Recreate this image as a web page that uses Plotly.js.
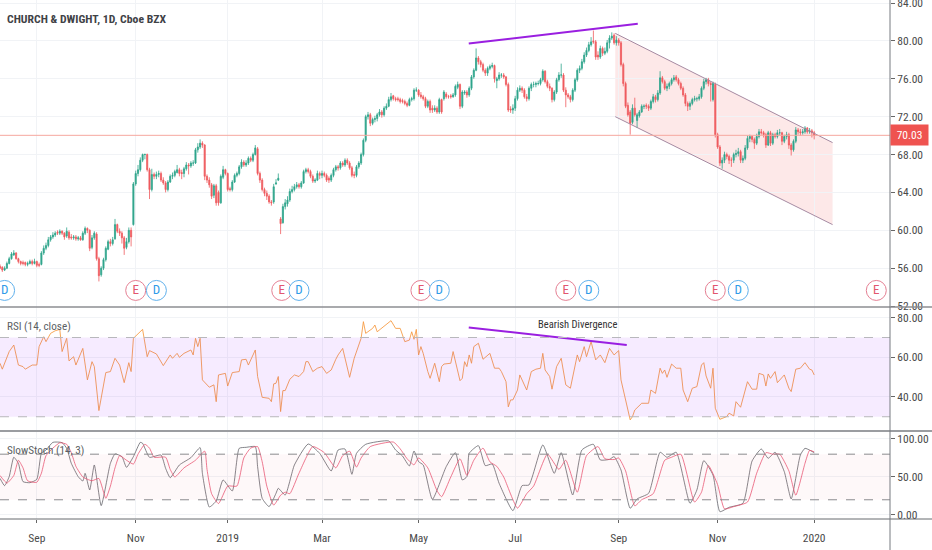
<!DOCTYPE html>
<html><head><meta charset="utf-8">
<script src="https://cdn.plot.ly/plotly-3.0.1.min.js"></script>
<style>html,body{margin:0;padding:0;background:#fff}#c{width:932px;height:550px}</style>
</head><body><div id="c"></div>
<script>
const closes=[56.0,55.8,56.0,56.5,57.0,57.5,57.6,57.0,56.7,56.5,
56.5,56.4,56.5,56.7,56.5,56.7,56.3,56.3,57.6,58.1,
58.4,59.0,59.3,59.5,59.7,59.7,59.9,59.7,59.3,59.9,
59.2,59.2,59.3,59.1,59.2,59.0,59.7,60.2,60.0,58.1,
59.2,59.7,57.0,55.2,56.0,56.9,58.1,58.8,58.6,59.0,
60.6,59.9,59.7,59.2,58.1,58.8,60.0,59.3,64.9,66.0,
66.4,67.4,68.0,68.0,66.4,64.3,65.9,65.7,65.9,66.0,
65.3,65.0,64.3,65.1,65.7,65.8,66.2,66.4,66.0,66.0,
66.5,66.9,66.8,67.1,67.1,68.5,68.8,69.2,69.0,65.7,
65.3,64.8,63.6,64.7,62.9,62.9,65.7,66.4,66.0,64.3,
64.3,65.1,65.8,66.0,66.7,67.2,66.9,67.1,67.6,67.4,
68.0,68.7,66.0,65.3,64.3,63.9,63.6,63.0,62.9,64.6,
65.0,65.5,60.7,62.5,62.9,63.2,64.1,64.3,64.6,64.8,
64.6,65.0,66.2,66.4,66.2,65.7,65.2,65.3,66.0,65.8,
66.0,65.8,65.3,65.3,65.8,66.4,66.7,66.6,67.1,66.9,
67.4,67.1,66.6,65.8,65.8,66.7,67.1,68.0,69.5,72.0,
72.2,71.3,71.7,71.8,72.2,72.5,72.2,72.9,73.1,73.8,
74.1,73.9,73.8,73.8,73.6,73.6,73.4,73.2,73.8,73.9,
74.8,74.8,74.3,74.1,73.9,73.1,73.6,72.7,72.7,72.9,
72.5,73.8,72.5,74.6,74.1,74.1,74.1,74.3,75.2,75.4,
73.1,74.6,74.6,74.3,75.0,76.2,76.9,78.2,77.8,77.5,
76.9,76.6,77.1,77.3,77.4,76.0,76.0,76.4,76.4,76.2,
75.4,72.7,72.7,72.9,73.9,74.8,75.0,74.8,74.1,73.9,
75.0,75.4,75.4,75.5,75.5,75.9,76.8,75.7,75.2,75.0,
73.8,74.6,75.9,76.4,76.4,74.8,74.3,74.1,73.8,74.8,
75.9,76.9,77.1,77.8,78.5,79.0,79.6,79.9,79.9,78.3,
78.3,79.2,78.7,78.9,79.8,80.3,80.5,79.8,80.1,79.8,
77.5,75.5,73.1,72.2,71.3,72.9,72.2,72.2,72.5,73.1,
73.1,73.1,72.9,73.6,74.1,73.8,74.5,76.1,75.7,75.0,
75.2,75.5,75.9,76.1,75.9,75.5,75.0,74.3,73.4,73.1,
73.4,73.8,73.9,73.9,74.1,75.0,75.7,75.9,75.5,75.4,
75.5,70.1,68.8,67.1,67.4,68.0,67.8,67.4,67.4,68.0,
68.1,68.3,67.4,67.6,68.7,69.7,69.9,69.6,69.2,69.9,
70.4,70.3,70.1,69.0,70.3,69.2,70.1,69.9,70.3,70.3,
69.4,69.9,70.1,69.0,68.5,69.4,70.6,70.4,70.3,70.4,
70.8,70.4,70.5,70.3,70.03];
const opens=[56.2,56.1,55.8,56.0,56.5,57.0,57.4,57.6,57.0,56.7,
56.6,56.6,56.4,56.5,56.7,56.5,56.7,56.4,56.4,57.6,
58.1,58.4,59.0,59.3,59.5,59.8,59.7,59.9,59.7,59.4,
59.8,59.3,59.2,59.3,59.1,59.2,59.0,59.7,60.2,60.0,
58.2,59.2,59.6,57.0,55.3,56.0,56.9,58.0,58.8,58.6,
59.1,60.6,59.9,59.7,59.2,58.2,58.8,60.0,60.6,64.9,
66.0,66.4,67.4,68.0,68.0,66.4,64.3,65.9,65.7,65.9,
66.0,65.3,65.0,64.3,65.1,65.7,65.8,66.1,66.4,66.1,
66.0,66.5,66.9,66.8,67.1,67.1,68.5,68.8,69.2,69.0,
65.7,65.3,64.8,63.7,64.7,64.0,62.9,65.6,66.4,66.0,
64.4,64.3,65.1,65.8,66.0,66.7,67.2,66.9,67.1,67.6,
67.4,68.0,68.6,66.0,65.3,64.3,63.9,63.6,63.0,63.0,
64.9,65.3,61.2,60.8,62.5,62.8,63.2,64.1,64.3,64.6,
64.8,64.6,65.0,66.2,66.4,66.2,65.7,65.2,65.3,66.0,
65.8,66.0,65.8,65.5,65.3,65.8,66.4,66.7,66.6,67.1,
66.9,67.4,67.1,66.6,65.9,65.8,66.7,67.1,68.0,69.5,
72.0,72.2,71.3,71.7,71.8,72.2,72.5,72.2,72.9,73.1,
73.8,74.2,73.9,73.9,73.8,73.7,73.6,73.4,73.2,73.8,
73.9,74.8,74.8,74.3,74.1,73.9,73.1,73.6,72.9,72.7,
72.9,72.5,73.8,73.9,74.4,74.1,74.2,74.1,74.3,75.1,
75.4,73.1,74.5,74.6,74.3,75.0,76.2,76.9,78.2,77.8,
77.5,76.9,76.6,77.1,77.3,77.4,75.8,76.0,76.4,76.4,
76.2,75.4,72.8,72.7,72.9,73.9,74.8,75.0,74.8,74.1,
73.9,75.0,75.4,75.4,75.5,75.5,75.9,76.8,75.7,75.2,
75.0,73.8,74.6,75.9,76.4,76.4,74.8,74.3,74.1,73.8,
74.8,75.9,76.9,77.1,77.8,78.5,79.0,79.6,80.0,79.9,
78.5,78.3,79.2,78.7,78.9,79.8,80.3,80.6,79.8,80.1,
79.8,77.5,75.5,73.2,72.5,71.4,72.9,71.6,72.1,72.5,
73.1,73.2,73.1,72.9,73.6,74.1,73.8,74.5,76.1,75.7,
75.0,75.2,75.5,75.9,76.2,75.9,75.5,75.0,74.3,73.4,
73.1,73.4,73.8,73.9,73.9,74.1,75.0,75.7,75.9,75.5,
73.8,75.4,70.1,68.8,67.1,67.4,68.0,67.8,67.4,67.4,
68.0,68.1,68.3,67.4,67.6,68.7,69.7,69.9,69.6,69.2,
69.9,70.4,70.3,70.1,69.0,70.3,69.2,70.1,69.9,70.3,
70.3,69.4,69.9,70.1,69.0,68.5,69.4,70.6,70.4,70.3,
70.4,70.8,70.4,70.5,70.3];
const highs=[56.4,56.2,56.2,56.7,57.2,57.7,57.9,57.7,57.1,56.8,
56.8,56.7,56.7,56.9,56.9,57.0,56.8,56.6,57.8,58.4,
58.7,59.3,59.5,59.8,59.9,60.0,60.1,60.0,59.8,60.3,
60.0,59.6,59.5,59.5,59.4,59.4,59.9,60.4,60.3,60.1,
59.5,59.9,59.8,57.2,56.2,57.1,58.3,59.0,59.1,59.3,
61.2,60.7,60.2,59.9,59.4,59.2,60.3,60.3,65.1,66.3,
66.9,67.7,68.1,68.1,68.1,66.6,66.5,66.1,66.2,66.3,
66.2,65.6,65.2,65.3,65.9,66.1,66.4,66.9,66.6,66.4,
66.7,67.2,67.1,67.3,67.4,68.7,69.2,69.6,69.4,69.1,
65.9,65.6,65.0,64.9,64.9,64.2,65.9,66.8,66.5,66.1,
64.6,65.3,66.0,66.2,66.9,67.5,67.4,67.4,67.8,67.8,
68.2,69.0,68.8,66.2,65.5,64.5,64.2,63.8,63.2,64.9,
65.4,66.0,61.4,62.8,63.3,63.6,64.4,64.7,64.9,65.1,
65.0,65.2,66.4,66.6,66.6,66.4,65.9,65.5,66.3,66.2,
66.3,66.2,66.0,65.7,66.0,66.6,66.9,66.9,67.3,67.3,
67.6,67.6,67.3,66.8,66.2,66.9,67.3,68.2,69.7,72.2,
72.5,72.4,71.9,72.1,72.4,72.8,72.7,73.1,73.4,74.1,
74.5,74.3,74.1,74.1,74.0,73.9,73.8,73.6,74.0,74.1,
75.0,75.1,74.9,74.6,74.3,74.1,73.8,73.8,73.2,73.2,
73.1,74.0,73.9,74.8,74.6,74.3,74.4,74.5,75.4,75.7,
75.5,74.8,74.8,74.8,75.2,76.4,77.1,79.2,78.4,78.0,
77.7,77.1,77.3,77.5,77.7,77.5,76.2,76.7,76.6,76.6,
76.3,75.6,73.1,73.3,74.2,75.1,75.3,75.2,75.0,74.4,
75.2,75.6,75.7,75.7,75.8,76.1,77.0,76.9,75.9,75.5,
75.1,74.8,76.1,76.7,77.6,76.6,75.1,74.5,74.3,75.0,
76.1,77.1,77.4,78.1,78.8,79.3,79.9,80.4,81.1,80.1,
78.9,79.5,79.4,79.3,80.1,80.6,80.9,80.8,80.5,80.3,
80.0,77.7,75.7,73.5,72.7,73.3,74.0,72.4,72.7,73.3,
73.3,73.4,73.3,73.8,74.4,74.3,74.8,76.8,76.3,75.9,
75.5,75.7,76.1,76.4,76.4,76.1,75.7,75.2,74.5,73.6,
73.6,74.0,74.2,74.1,74.4,75.2,76.0,76.1,76.1,75.7,
75.7,75.6,70.3,69.0,67.7,68.3,68.2,68.0,67.7,68.2,
68.5,68.7,68.5,67.9,69.0,70.0,70.1,70.0,69.8,70.2,
70.7,70.7,70.5,70.3,70.5,70.5,70.3,70.3,70.6,70.7,
70.4,70.1,70.4,70.3,69.2,69.6,70.9,70.8,70.7,70.7,
71.0,70.9,70.8,70.7,70.5];
const lows=[55.9,55.6,55.7,55.9,56.4,56.9,57.3,56.9,56.5,56.3,
56.3,56.2,56.2,56.4,56.3,56.4,56.1,56.1,56.3,57.4,
57.9,58.2,58.8,59.1,59.3,59.5,59.5,59.5,59.0,59.2,
59.0,59.0,59.0,58.9,58.9,58.9,58.9,59.5,59.7,57.8,
58.0,59.0,56.8,54.6,55.1,55.8,56.7,57.9,58.3,58.4,
59.0,59.7,59.4,58.6,57.4,58.0,58.6,58.3,60.5,64.7,
65.7,66.2,67.2,67.5,66.2,63.3,64.1,65.4,65.4,65.6,
65.1,64.8,64.0,64.1,65.0,65.4,65.6,66.0,65.7,65.4,
65.6,66.3,65.9,66.6,66.8,67.0,68.2,68.6,68.7,65.3,
65.0,64.5,63.3,63.4,62.6,62.6,62.8,65.4,65.8,64.1,
64.1,64.1,65.0,65.6,65.8,66.5,66.7,66.7,66.9,67.2,
67.2,67.9,65.8,65.0,64.1,63.6,63.2,62.8,62.6,62.8,
64.8,65.2,59.6,60.7,62.2,62.5,63.0,63.9,64.1,64.4,
64.4,64.4,64.9,66.0,66.0,65.5,65.0,65.0,65.2,65.4,
65.5,65.6,65.1,65.0,65.1,65.6,66.2,66.3,66.4,66.7,
66.7,66.9,66.4,65.6,65.5,65.6,66.5,66.9,67.8,69.3,
71.7,71.0,71.1,71.4,71.5,72.0,71.9,72.0,72.7,73.0,
73.6,73.7,73.6,73.6,73.4,73.4,73.2,73.0,73.1,73.6,
73.7,74.6,74.1,73.9,73.7,72.9,72.9,72.4,72.4,72.5,
72.3,72.3,72.3,73.7,73.9,73.9,73.9,74.0,74.1,74.9,
72.8,72.9,74.3,74.0,74.1,74.8,76.0,76.8,77.5,77.2,
76.7,76.3,76.3,76.9,77.1,75.6,75.0,75.8,76.1,76.0,
75.2,72.5,72.4,72.3,72.6,73.7,74.6,74.5,73.9,73.6,
73.7,74.7,75.1,75.1,75.3,75.3,75.7,75.5,75.0,74.7,
73.5,73.6,74.4,75.7,76.1,74.6,73.0,73.9,73.5,73.6,
74.6,75.7,76.6,76.9,77.6,78.3,78.8,79.4,79.7,78.0,
78.0,78.1,78.4,78.5,78.7,79.2,80.1,79.6,79.5,79.5,
77.3,75.2,72.9,72.0,70.1,71.2,72.0,70.8,71.9,72.4,
72.8,72.8,72.6,72.7,73.4,73.5,73.6,74.3,75.5,74.8,
74.7,74.9,75.3,75.7,75.7,75.3,74.8,74.1,73.1,72.6,
72.7,73.2,73.6,73.6,73.7,73.9,74.8,75.4,75.2,73.6,
73.6,69.8,68.6,66.8,66.5,67.1,67.5,67.0,66.7,67.1,
67.7,67.8,67.1,67.1,67.4,68.5,69.3,69.3,68.6,69.0,
69.7,70.1,69.8,68.7,68.9,68.9,69.0,69.7,69.7,70.0,
69.0,69.2,69.6,68.6,67.9,68.3,69.2,70.1,70.0,70.1,
70.2,70.2,70.2,69.8,69.6];

const rsiDays=[0,1,4,6,8,10,11,14,16,17,19,20,22,24,26,27,29,30,32,33,36,38,40,41,43,46,48,50,52,54,56,57,58,62,64,65,68,71,74,75,77,78,80,83,84,85,86,87,88,91,93,94,95,98,99,101,104,105,107,108,111,112,114,117,118,119,120,121,122,123,124,126,128,130,132,133,134,136,138,140,142,144,146,147,149,152,154,157,158,159,162,163,164,167,170,172,174,176,178,179,180,181,182,183,184,186,187,189,191,192,193,196,197,200,201,202,203,204,205,206,208,210,212,213,215,217,218,220,221,222,223,225,226,229,231,233,235,236,237,239,240,242,244,246,248,251,252,254,255,257,259,261,263,265,267,269,270,272,274,275,276,279,282,283,285,287,288,289,290,292,294,296,297,299,301,303,305,306,307,309,310,311,313,316,317,319,320,322,325,327,329,330,332,333,334,335,337,338,341,343,344,346,348,350,352,353,354];
const rsiValues=[57.0,54.0,62.9,66.2,56.1,55.3,54.0,56.1,56.1,65.4,70.4,67.9,72.1,73.4,74.1,62.9,69.6,58.2,60.3,56.1,64.5,48.6,57.8,55.3,33.1,52.3,52.8,59.5,56.1,47.2,57.3,52.8,69.6,74.1,60.3,63.4,61.7,55.8,61.2,59.5,62.0,60.0,62.0,63.7,61.2,69.6,65.4,69.6,48.6,44.9,46.1,37.6,51.1,51.9,45.5,52.3,52.8,58.7,59.0,56.1,63.7,50.3,39.8,39.3,37.6,46.6,46.9,50.3,32.6,43.2,43.2,48.9,51.1,50.3,52.8,57.8,57.8,52.8,54.5,55.3,51.9,53.6,59.0,61.2,64.5,49.9,59.5,69.6,78.0,72.1,74.6,76.3,72.9,75.5,78.5,74.6,74.6,67.9,68.7,72.9,69.1,74.1,61.2,65.4,62.0,52.8,49.4,57.0,47.7,55.3,56.6,57.0,62.9,48.2,49.4,57.8,55.3,61.2,57.0,65.4,67.1,59.0,60.7,62.0,54.5,54.5,52.8,47.7,35.0,38.5,38.5,43.5,51.1,43.5,52.8,54.0,54.5,62.0,53.6,50.3,43.9,55.3,59.5,46.1,44.4,61.2,57.8,65.4,60.3,67.9,58.7,61.2,57.3,64.5,61.2,63.4,48.6,38.5,28.4,30.1,33.4,36.8,36.8,43.5,41.8,54.5,51.9,53.6,49.9,56.6,54.5,54.5,43.5,37.6,44.4,45.2,56.1,57.3,50.6,44.4,54.5,34.3,28.7,30.1,31.8,30.4,37.6,34.8,47.7,43.9,43.9,51.9,51.1,45.5,51.6,49.4,52.8,47.2,51.1,44.4,42.7,54.0,54.5,57.3,54.0,53.6,51.1];

const stochKDays=[0,2,4,6,8,10,13,16,18,20,23,27,29,31,34,36,37,39,41,44,48,50,53,55,58,61,62,65,70,72,74,78,83,87,88,91,94,97,101,104,107,111,112,114,117,120,121,124,128,134,139,144,147,150,153,155,159,169,172,175,178,180,182,184,188,194,198,201,203,204,208,211,214,217,223,227,230,236,241,244,249,253,258,261,265,267,270,274,277,282,287,290,294,300,303,306,310,313,317,323,327,331,334,337,341,344,348,350,354];
const stochK=[48.2,38.6,50.4,75.9,68.0,43.9,42.5,46.9,81.1,85.5,95.6,95.2,87.7,68.0,50.4,44.7,54.8,32.9,65.8,12.3,68.0,80.3,76.8,62.7,76.8,95.6,94.3,75.9,78.9,61.4,49.1,65.8,75.4,88.6,54.8,10.5,18.4,46.1,31.6,87.7,89.0,89.9,63.6,21.9,11.0,28.5,35.1,26.3,65.8,93.4,81.1,57.9,85.5,86.8,53.5,81.1,93.0,97.4,85.5,77.6,64.5,84.2,70.2,65.8,20.6,63.6,82.0,46.1,50.4,81.1,91.2,64.9,67.1,41.7,5.7,38.6,39.5,92.1,54.8,82.0,26.3,85.5,93.0,72.4,73.2,76.8,59.2,8.8,21.1,28.5,82.5,75.9,82.5,15.4,32.9,71.5,52.6,4.4,10.1,15.4,71.1,86.8,74.6,82.5,57.0,21.1,78.9,87.7,82.0];
const stochDDays=[0,3,6,8,10,12,16,18,20,23,26,29,31,33,36,38,40,43,46,48,50,52,55,58,60,63,65,67,72,74,76,80,85,89,90,92,95,99,103,106,109,112,114,116,119,122,124,126,130,136,141,146,149,152,155,157,161,171,174,177,180,182,186,190,192,196,200,203,206,210,213,216,219,225,229,232,238,243,246,251,255,260,263,267,269,272,276,279,284,289,292,296,302,305,308,312,315,319,325,329,333,336,339,343,346,350,352,354];
const stochD=[52,42,52,72,62,45,43,55,78,88,95,93,82,64,50,47,45,48,22,38,62,78,72,67,80,93,88,76,76,60,50,62,72,84,60,28,15,38,38,75,88,90,70,38,13,26,30,28,55,90,82,62,78,84,63,75,90,96,87,74,66,75,62,32,24,50,74,52,72,88,70,64,50,9,28,38,80,60,72,30,78,90,74,73,75,58,12,20,28,72,76,80,17,30,65,40,8,11,17,55,82,80,80,58,26,68,85,83];

const tickDays=[16,59,99,140,182,224,269,312,354];
const tickLabels=['Sep','Nov','2019','Mar','May','Jul','Sep','Nov','2020'];
const priceTicks=[52,56,60,64,68,72,76,80,84];
const rsiTicks=[40,60,80];
const stochTicks=[0,50,100];
const earningsDays=[59,122.5,183,246,311,381];
const dividendDays=[2,68,130,191,256,321];
const markerPrice=53.65;
const lastPrice=70.03;

const narrow='"Liberation Sans Narrow","Roboto Condensed","Liberation Sans",sans-serif';
const days=closes.map((_,i)=>i);
const ax={showline:false,zeroline:false,gridcolor:'#f1f3f6',gridwidth:1,side:'right',anchor:'x',ticks:'outside',ticklen:4,tickcolor:'#666',
  tickfont:{family:narrow,size:11.5,color:'#4a4a4a'},tickformat:'.2f',tickmode:'array',fixedrange:true,ticklabeloverflow:'allow'};
const bubble=(xs,letter,ring,color)=>({type:'scatter',mode:'markers+text',x:xs,y:xs.map(()=>markerPrice),text:xs.map(()=>letter),
  textposition:'middle center',textfont:{family:narrow,size:13,color:color},xaxis:'x',yaxis:'y',
  marker:{size:20,color:'#fff',line:{color:ring,width:1}},hoverinfo:'skip',showlegend:false});
const traces=[
 {type:'candlestick',x:days,open:opens,high:highs,low:lows,close:closes,xaxis:'x',yaxis:'y',showlegend:false,whiskerwidth:0,
  increasing:{line:{color:'#2fa58c',width:0.8},fillcolor:'#2fa58c'},decreasing:{line:{color:'#ef5a5e',width:0.8},fillcolor:'#ef5a5e'}},
 bubble(earningsDays,'E','#e57f93','#e2566f'),
 bubble(dividendDays,'D','#5fb0ec','#2f9be8'),
 {type:'scatter',mode:'lines',x:rsiDays,y:rsiValues,xaxis:'x',yaxis:'y2',line:{color:'#f5973c',width:0.85},showlegend:false},
 {type:'scatter',mode:'lines',x:stochKDays,y:stochK,xaxis:'x',yaxis:'y3',line:{color:'rgba(85,85,92,0.85)',width:0.85,shape:'spline',smoothing:0.5},showlegend:false},
 {type:'scatter',mode:'lines',x:stochDDays,y:stochD,xaxis:'x',yaxis:'y3',line:{color:'rgba(232,80,111,0.9)',width:0.85,shape:'spline',smoothing:0.5},showlegend:false}
];
const seg=(x0,y0,x1,y1,yref,color,width,dash,layer)=>({type:'line',xref:'x',yref:yref,x0,y0,x1,y1,line:{color,width,dash:dash||'solid'},layer:layer||'above'});
const full=(y,yref,color,dash)=>({type:'line',xref:'paper',yref:yref,x0:0,x1:1,y0:y,y1:y,line:{color:color,width:1,dash:dash||'solid'},layer:'above'});
const sep=(y,w,c)=>({type:'line',xref:'paper',yref:'paper',x0:0,x1:1.05,y0:y,y1:y,line:{color:c,width:w},layer:'above'});
const dRsi=212/519,dSto=88/519;
const shapes=[
 {type:'path',xref:'x',yref:'y',path:'M 267.5 80.8 L 362 69.26 L 362 60.6 L 267.5 72 Z',fillcolor:'rgba(250,190,190,0.36)',line:{width:0},layer:'below'},
 seg(267.5,80.8,362,69.26,'y','#a58aa2',1),
 seg(267.5,72,362,60.6,'y','#a58aa2',1),
 seg(203.8,79.72,277.3,81.8,'y','#9a1fe0',2),
 seg(203.8,75.1,272.5,66.2,'y2','#9a1fe0',2),
 full(lastPrice,'y','#f6a79f'),
 {type:'rect',xref:'paper',yref:'y2',x0:0,x1:1,y0:30,y1:70,fillcolor:'rgba(153,21,255,0.085)',line:{width:0},layer:'above'},
 full(70,'y2','#b8b8bc','dash'),
 full(30,'y2','#b8b8bc','dash'),
 {type:'rect',xref:'paper',yref:'y3',x0:0,x1:1,y0:20,y1:80,fillcolor:'rgba(240,120,140,0.05)',line:{width:0},layer:'above'},
 full(80,'y3','#8a8a8e','dash'),
 full(20,'y3','#8a8a8e','dash'),
 sep(dRsi,1.5,'#8c8e92'),
 sep(dSto,2,'#9b9da1'),
 sep(0,1,'#666a6e'),
 {type:'line',xref:'paper',yref:'paper',x0:1,x1:1,y0:-0.06,y1:1,line:{color:'#777b80',width:1},layer:'above'}
];
const note=(text,x,y,size,color,extra)=>Object.assign({text,xref:'paper',yref:'paper',x,y,xanchor:'left',yanchor:'middle',showarrow:false,font:{family:narrow,size,color}},extra||{});
const layout={
 width:932,height:550,margin:{l:0,r:42,t:0,b:31},paper_bgcolor:'#fff',plot_bgcolor:'#fff',showlegend:false,hovermode:false,
 xaxis:{type:'linear',range:[0,386.96],anchor:'y3',tickmode:'array',tickvals:tickDays,ticktext:tickLabels,showgrid:true,gridcolor:'#f1f3f6',zeroline:false,
   ticks:'outside',ticklen:3,tickcolor:'#666',ticklabelstandoff:5,tickfont:{family:narrow,size:11.5,color:'#4a4a4a'},rangeslider:{visible:false},fixedrange:true},
 yaxis:Object.assign({},ax,{domain:[dRsi,1],range:[51.9,84.32],tickvals:priceTicks}),
 yaxis2:Object.assign({},ax,{domain:[dSto,dRsi],range:[22.8,85.4],tickvals:rsiTicks}),
 yaxis3:Object.assign({},ax,{domain:[0,dSto],range:[-5.3,110.5],tickvals:stochTicks}),
 shapes,
 annotations:[
  note('<b>CHURCH &amp; DWIGHT, 1D, Cboe BZX</b>',5/890,1-19/519,11.7,'#3f4246'),
  note('RSI (14, close)',5/890,1-326/519,11.2,'#5c5f64'),
  note('SlowStoch (14, 3)',5/890,1-450/519,11.2,'#5c5f64'),
  {text:'Bearish Divergence',xref:'x',yref:'y2',x:251.2,y:76.6,xanchor:'center',yanchor:'middle',showarrow:false,font:{family:narrow,size:10.5,color:'#333'}},
  {text:'70.03',xref:'paper',yref:'y',x:1,y:lastPrice,xanchor:'left',yanchor:'middle',showarrow:false,width:37,height:20,align:'center',bgcolor:'#ef5350',borderpad:0,font:{family:narrow,size:11.5,color:'#fff'}}
 ]
};
Plotly.newPlot('c',traces,layout,{displayModeBar:false,staticPlot:true});
</script></body></html>
